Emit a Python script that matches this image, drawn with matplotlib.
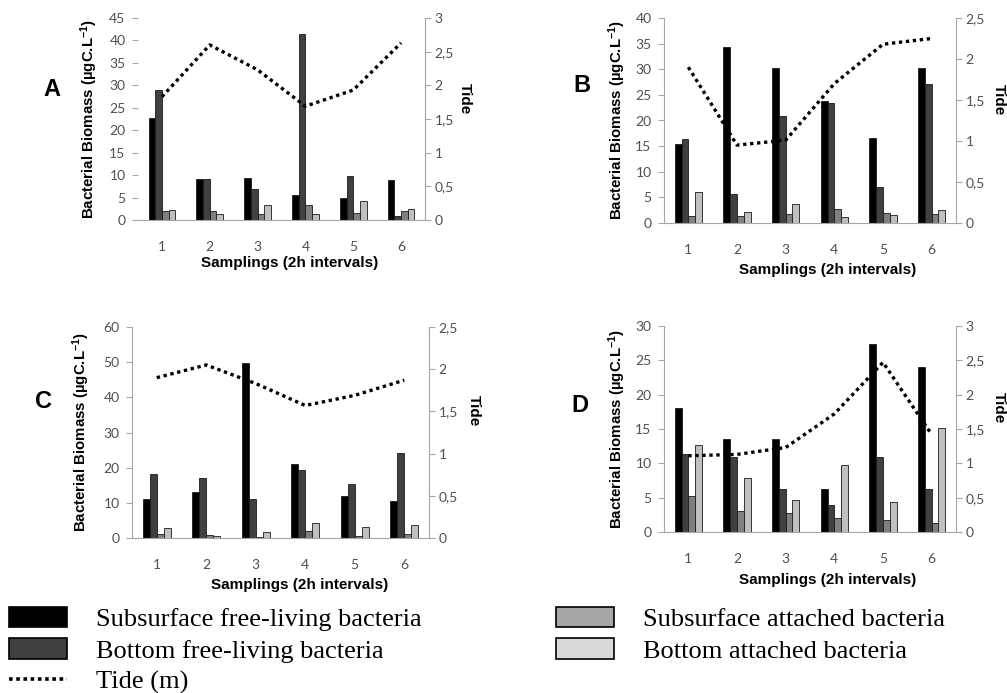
import matplotlib
matplotlib.use('Agg')
import matplotlib.pyplot as plt
from matplotlib.patches import Patch
from matplotlib.lines import Line2D
from matplotlib.ticker import FuncFormatter, MultipleLocator
import numpy as np

plt.rcParams['mathtext.default'] = 'regular'

W, H = 1007, 693

samplings = [1, 2, 3, 4, 5, 6]
series_names = ['Subsurface free-living bacteria', 'Bottom free-living bacteria',
                'Subsurface attached bacteria', 'Bottom attached bacteria']

# A
a_sub_free = [22.8, 9.2, 9.4, 5.5, 4.8, 8.9]
a_bot_free = [28.9, 9.2, 6.9, 41.4, 9.9, 1.0]
a_sub_att = [1.9, 1.9, 1.3, 3.3, 1.5, 1.9]
a_bot_att = [2.3, 1.3, 3.3, 1.3, 4.2, 2.5]
a_tide = [1.83, 2.60, 2.23, 1.69, 1.93, 2.63]

# B
b_sub_free = [15.5, 34.3, 30.3, 23.9, 16.5, 30.2]
b_bot_free = [16.3, 5.6, 20.8, 23.5, 7.1, 27.1]
b_sub_att = [1.3, 1.4, 1.8, 2.8, 2.0, 1.8]
b_bot_att = [6.1, 2.2, 3.8, 1.2, 1.6, 2.5]
b_tide = [1.90, 0.95, 1.01, 1.70, 2.18, 2.25]

# C
c_sub_free = [11.1, 13.2, 49.8, 21.1, 11.9, 10.4]
c_bot_free = [18.1, 17.1, 11.1, 19.2, 15.4, 24.3]
c_sub_att = [1.0, 0.9, 0.3, 2.1, 0.6, 1.2]
c_bot_att = [2.9, 0.6, 1.8, 4.2, 3.0, 3.7]
c_tide = [1.90, 2.05, 1.83, 1.57, 1.69, 1.87]

# D
d_sub_free = [18.0, 13.5, 13.6, 6.2, 27.4, 24.1]
d_bot_free = [11.3, 10.9, 6.3, 3.9, 10.9, 6.2]
d_sub_att = [5.3, 3.1, 2.7, 2.1, 1.7, 1.3]
d_bot_att = [12.6, 7.9, 4.6, 9.7, 4.3, 15.2]
d_tide = [1.11, 1.13, 1.23, 1.72, 2.47, 1.42]

bar_colors = ['#000000', '#404040', '#808080', '#c0c0c0']
legend_colors = ['#000000', '#404040', '#a6a6a6', '#d9d9d9']
axis_grey = '#a6a6a6'
tick_col = '#505050'
tide_style = (0, (1, 1.1))

fig = plt.figure(figsize=(W / 100, H / 100), dpi=100)


def comma(v, pos):
    s = ('%.1f' % v).rstrip('0').rstrip('.')
    return s.replace('.', ',')


def panel(box, letter, letter_xy, bars, tide, ymax, ystep, tmax,
          ylab_x, tide_xy, xlab_xy, left_spine=True):
    l, t, r, b = box
    ax = fig.add_axes([l / W, 1 - b / H, (r - l) / W, (b - t) / H])
    ax2 = ax.twinx()
    x = np.array(samplings)
    w = 0.14
    for i, vals in enumerate(bars):
        ax.bar(x + (i - 1.5) * w, vals, w, color=bar_colors[i],
               edgecolor='#1a1a1a', linewidth=0.6, zorder=2)
    ax2.plot(x, tide, color='black', lw=2.4, linestyle=tide_style)
    ax.set_xlim(0.5, 6.5)
    ax.set_ylim(0, ymax)
    ax2.set_ylim(0, tmax)
    ax.yaxis.set_major_locator(MultipleLocator(ystep))
    ax2.yaxis.set_major_locator(MultipleLocator(0.5))
    ax2.yaxis.set_major_formatter(FuncFormatter(comma))
    ax.set_xticks(samplings)
    for a in (ax, ax2):
        a.set_facecolor('none')
        for s in a.spines.values():
            s.set_color(axis_grey)
        a.spines['top'].set_visible(False)
    ax.spines['right'].set_visible(False)
    ax2.spines['left'].set_visible(False)
    ax2.spines['bottom'].set_visible(False)
    if not left_spine:
        ax.spines['left'].set_visible(False)
    ax.tick_params(axis='x', length=0, pad=15, labelsize=10, labelcolor=tick_col)
    ax.tick_params(axis='y', length=4, width=0.8, color=axis_grey, pad=5,
                   labelsize=10, labelcolor=tick_col)
    ax2.tick_params(axis='y', length=4, width=0.8, color=axis_grey, pad=3,
                    labelsize=10, labelcolor=tick_col)
    for lab in ax.get_xticklabels() + ax.get_yticklabels() + ax2.get_yticklabels():
        lab.set_family('Lato')
    cy = (t + b) / 2
    fig.text(ylab_x / W, 1 - cy / H, 'Bacterial Biomass (µgC.L$^{-1}$)',
             rotation=90, ha='center', va='center', fontsize=10.8,
             fontweight='bold', family='Liberation Sans')
    fig.text(tide_xy[0] / W, 1 - tide_xy[1] / H, 'Tide', rotation=270,
             ha='center', va='center', fontsize=11, fontweight='bold',
             family='Liberation Sans')
    fig.text(xlab_xy[0] / W, 1 - xlab_xy[1] / H, 'Samplings (2h intervals)',
             ha='center', va='center', fontsize=11, fontweight='bold',
             family='Liberation Sans')
    fig.text(letter_xy[0] / W, 1 - letter_xy[1] / H, letter, ha='center',
             va='center', fontsize=17, fontweight='bold', family='Liberation Sans')
    return ax, ax2


panel((138, 18, 425, 220), 'A', (52, 90),
      [a_sub_free, a_bot_free, a_sub_att, a_bot_att], a_tide, 45, 5, 3,
      89, (465, 99), (290, 263), left_spine=False)
panel((664, 18, 956, 223), 'B', (582, 86),
      [b_sub_free, b_bot_free, b_sub_att, b_bot_att], b_tide, 40, 5, 2.5,
      617, (999, 100), (828, 270))
panel((132, 327, 429, 538), 'C', (43, 402),
      [c_sub_free, c_bot_free, c_sub_att, c_bot_att], c_tide, 60, 10, 2.5,
      81, (474, 411), (300, 585))
panel((664, 326, 956, 532), 'D', (580, 405),
      [d_sub_free, d_bot_free, d_sub_att, d_bot_att], d_tide, 30, 5, 3,
      617, (999, 408), (828, 580))

handles = [Patch(facecolor=legend_colors[0], edgecolor='black', lw=1.2),
           Patch(facecolor=legend_colors[1], edgecolor='black', lw=1.2),
           Line2D([], [], color='black', lw=2.6, linestyle=(0, (1, 1))),
           Patch(facecolor=legend_colors[2], edgecolor='black', lw=1.2),
           Patch(facecolor=legend_colors[3], edgecolor='black', lw=1.2)]
labels = [series_names[0], series_names[1], 'Tide (m)',
          series_names[2], series_names[3]]
fig.legend(handles, labels, loc='upper left', bbox_to_anchor=(9 / W, 1 - 607 / H),
           ncol=2, frameon=False, borderpad=0, borderaxespad=0,
           handlelength=2.2, handleheight=0.8, handletextpad=1.1,
           columnspacing=5.1, labelspacing=0.27,
           prop={'family': 'Liberation Serif', 'size': 19})

fig.savefig('out.png', dpi=100)
